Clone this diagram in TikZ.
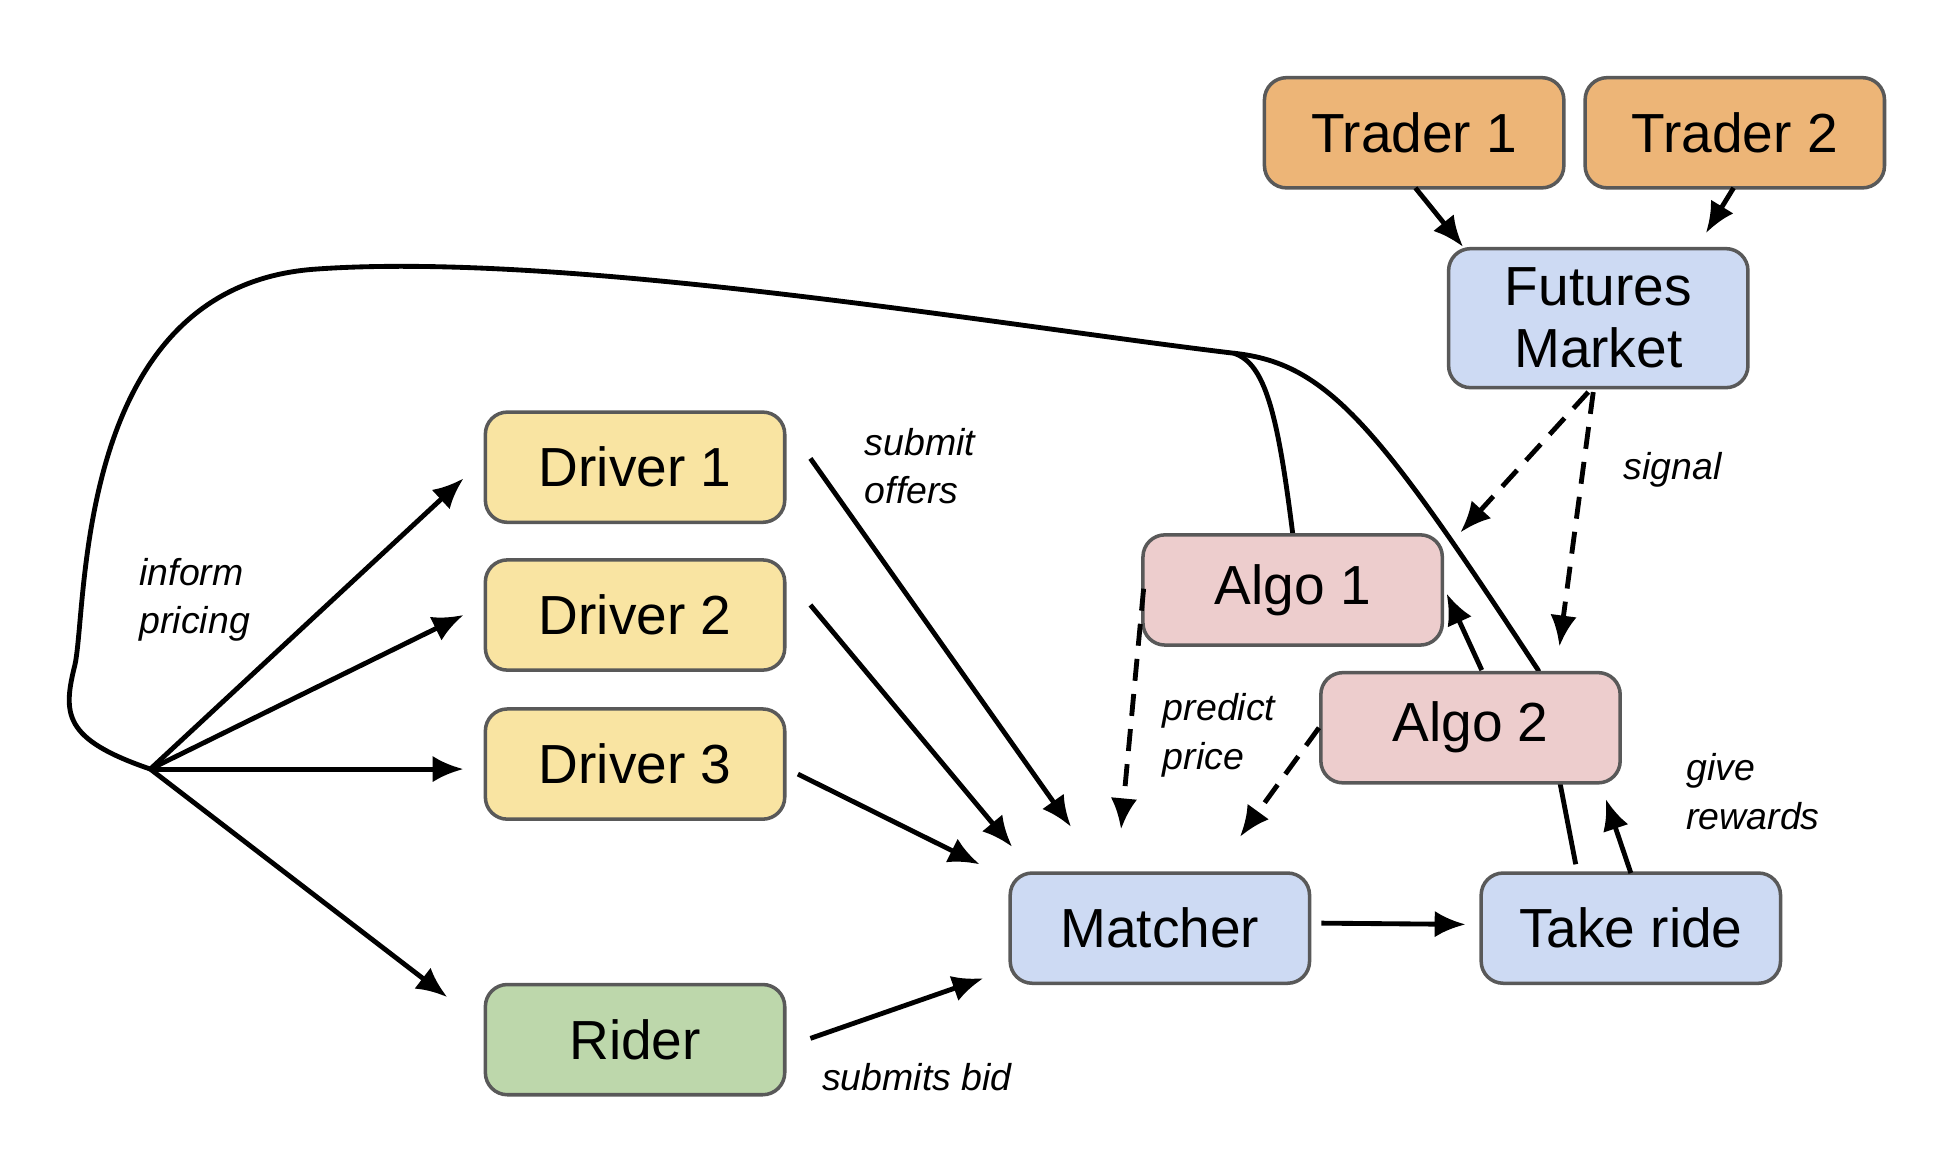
\documentclass[tikz,border=0pt]{standalone}
\usepackage{fontspec}
\setmainfont{Liberation Sans}
\usetikzlibrary{arrows.meta}
\pgfdeclarelayer{bg}\pgfsetlayers{bg,main}
\begin{document}
\begin{tikzpicture}[x=0.01cm,y=-0.01cm,
 box/.style={draw=black!65,line width=0.8pt,rounded corners=5pt,minimum width=239*0.01cm,minimum height=88*0.01cm,font=\fontsize{12.5}{14}\selectfont,align=center,inner sep=0pt},
 orange/.style={box,fill={rgb,255:red,237;green,181;blue,119}},
 blue/.style={box,fill={rgb,255:red,205;green,218;blue,243}},
 yellow/.style={box,fill={rgb,255:red,249;green,228;blue,162}},
 green/.style={box,fill={rgb,255:red,189;green,215;blue,171}},
 pink/.style={box,fill={rgb,255:red,237;green,205;blue,205}},
 arr/.style={line width=1.1pt,-{Latex[length=7pt,width=6pt]}},
 darr/.style={arr,dash pattern=on 5pt off 3pt},
 lbl/.style={font=\fontsize{8.5}{11}\selectfont\itshape,align=left,anchor=west}]
\useasboundingbox (0,0) rectangle (1560,918);
\node[orange] (t1) at (1129,106) {Trader 1};
\node[orange] (t2) at (1385,106) {Trader 2};
\node[blue,minimum height=111*0.01cm] (fm) at (1276,254) {Futures\\Market};
\node[yellow] (d1) at (507,373) {Driver 1};
\node[yellow] (d2) at (507,491) {Driver 2};
\node[yellow] (d3) at (507,610) {Driver 3};
\node[green] (r) at (507,830) {Rider};
\node[pink] (a1) at (1032,471) {Algo 1};
\node[pink] (a2) at (1174,581) {Algo 2};
\node[blue] (m) at (926,741) {Matcher};
\node[blue] (tr) at (1302,741) {Take ride};
\coordinate (hub) at (120,614);
\coordinate (j) at (985,282);
\begin{pgfonlayer}{bg}
\draw[line width=1.1pt] (hub) .. controls (50,590) and (50,570) .. (60,530)
  .. controls (70,480) and (60,230) .. (250,215)
  .. controls (450,200) and (800,260) .. (j)
  .. controls (1010,290) and (1020,330) .. (a1.north);
\draw[line width=1.1pt] (j) .. controls (1060,290) and (1100,340) .. (1228,535) -- (1258,690);
\end{pgfonlayer}
\draw[arr] (hub) -- (370,382);
\draw[arr] (hub) -- (370,491);
\draw[arr] (hub) -- (370,614);
\draw[arr] (hub) -- (357,796);
\draw[arr] (647,366) -- (855,660);
\draw[arr] (647,483) -- (808,676);
\draw[arr] (637,618) -- (782,690);
\draw[arr] (647,829) -- (785,781);
\draw[arr] (1055,737) -- (1170,738);
\draw[arr] (1302,697) -- (1282,638);
\draw[arr] (1183,535) -- (1155,474);
\draw[darr] (1268,313) -- (1166,425);
\draw[darr] (1272,313) -- (1245,516);
\draw[darr] (913,470) -- (895,662);
\draw[darr] (1053,581) -- (990,668);
\draw[arr] (1130,150) -- (1168,197);
\draw[arr] (1384,150) -- (1362,186);
\node[lbl] at (678,372) {submit\\offers};
\node[lbl] at (99,479) {inform\\pricing};
\node[lbl] at (1284,375) {signal};
\node[lbl] at (916,587) {predict\\price};
\node[lbl] at (1334,632) {give\\rewards};
\node[lbl] at (644,860) {submits bid};
\end{tikzpicture}
\end{document}
